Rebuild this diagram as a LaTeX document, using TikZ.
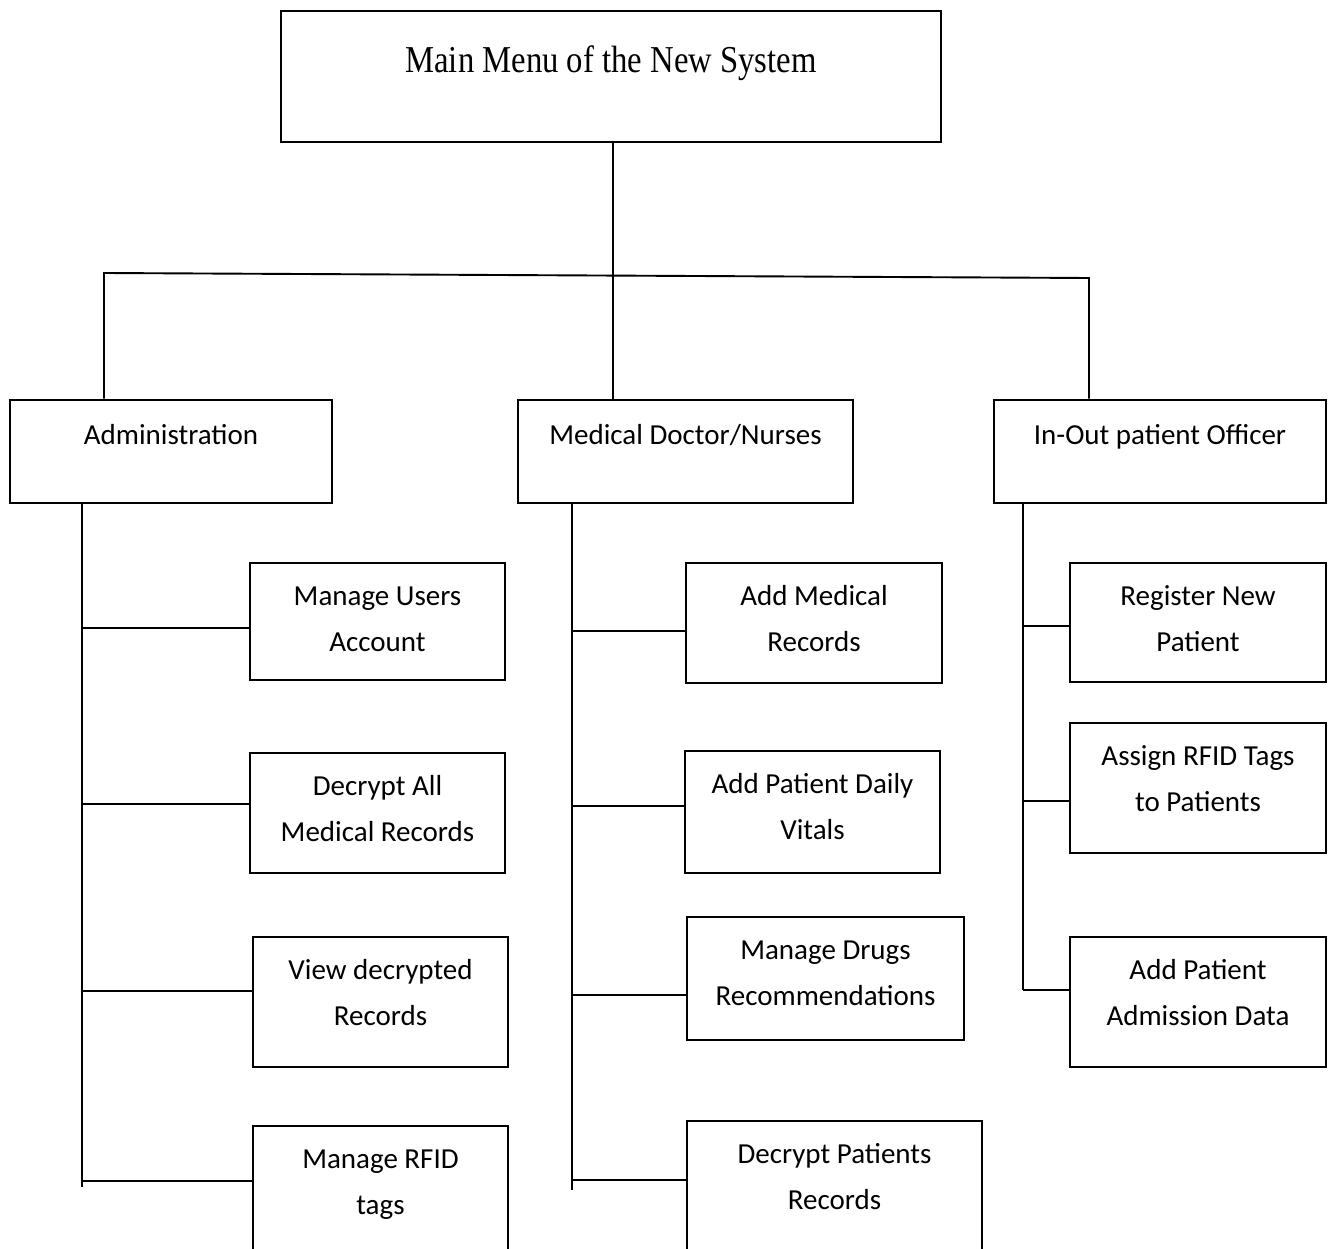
\documentclass[tikz,border=0pt]{standalone}
\usepackage{fontspec}
\setmainfont{Carlito}
\newfontfamily\titlefont[FakeStretch=0.86]{Liberation Serif}
\begin{document}
\begin{tikzpicture}[x=1pt,y=-1pt,
  menubox/.style={draw, line width=2pt, inner sep=0pt, minimum width=660pt,
    text height=62pt, text depth=69pt, font=\titlefont\fontsize{38}{40}\selectfont},
  rolebox/.style={draw, line width=2.8pt, inner sep=0pt, minimum height=103pt,
    text height=44pt, text depth=59pt, font=\fontsize{29}{45}\selectfont},
  % two-line task boxes: text hangs from the top edge (height runs to the
  % last baseline), the depth fills the rest of the box
  taskbox/.style={draw, line width=2.8pt, inner sep=0pt, align=center,
    text height=88pt, text depth=#1, font=\fontsize{29}{46}\selectfont},
  link/.style={line width=1.9pt}]
\useasboundingbox (0,0) rectangle (1331,1249);
\clip (0,0) rectangle (1331,1249);

% top of the hierarchy
\node[menubox] (main) at (611,76.5) {Main Menu of the New System};

% user roles
\node[rolebox, minimum width=322pt] (admin) at (171,451.5) {Administration};
\node[rolebox, minimum width=335pt] (med)   at (685.5,451.5) {Medical Doctor/Nurses};
\node[rolebox, minimum width=332pt] (inout) at (1160,451.5) {In-Out patient Officer};

% administration tasks
\node[taskbox=29pt, minimum width=255pt] (m1) at (377.5,621.5) {Manage Users\\Account};
\node[taskbox=32pt, minimum width=255pt] (m2) at (377.5,813) {Decrypt All\\Medical Records};
\node[taskbox=42pt, minimum width=255pt] (m3) at (380.5,1002) {View decrypted\\Records};
\node[taskbox=42pt, minimum width=255pt] (m4) at (380.5,1191) {Manage RFID\\tags};

% doctor / nurse tasks
\node[taskbox=32pt, minimum width=256pt] (d1) at (814,623) {Add Medical\\Records};
\node[taskbox=34pt, minimum width=255pt] (d2) at (812.5,812) {Add Patient Daily\\Vitals};
\node[taskbox=35pt, minimum width=277pt] (d3) at (825.5,978.5) {Manage Drugs\\Recommendations};
\node[taskbox=43pt, minimum width=295pt] (d4) at (834.5,1186.5) {Decrypt Patients\\Records};

% in-out patient officer tasks
\node[taskbox=31pt, minimum width=256pt] (o1) at (1198,622.5) {Register New\\Patient};
\node[taskbox=42pt, minimum width=256pt] (o2) at (1198,788) {Assign RFID Tags\\to Patients};
\node[taskbox=42pt, minimum width=256pt] (o3) at (1198,1002) {Add Patient\\Admission Data};

% bus from the main menu to the roles
\coordinate (hub)  at (613,275.5);
\coordinate (barL) at (104,273);
\coordinate (barR) at (1089,278);
\draw[link] (main.south -| hub) -- (hub) -- (med.north -| hub);
\draw[link] (admin.north -| barL) -- (barL) -- (barR) -- (inout.north -| barR);

% administration trunk and branches
\coordinate (aT) at (82,1187);
\draw[link] (admin.south -| aT) -- (aT);
\draw[link] (aT |- 0,628)  -- (m1.west |- 0,628);
\draw[link] (aT |- 0,804)  -- (m2.west |- 0,804);
\draw[link] (aT |- 0,991)  -- (m3.west |- 0,991);
\draw[link] (aT |- 0,1181) -- (m4.west |- 0,1181);

% doctor / nurse trunk and branches
\coordinate (dT) at (572,1190);
\draw[link] (med.south -| dT) -- (dT);
\draw[link] (dT |- 0,631)  -- (d1.west |- 0,631);
\draw[link] (dT |- 0,806)  -- (d2.west |- 0,806);
\draw[link] (dT |- 0,995)  -- (d3.west |- 0,995);
\draw[link] (dT |- 0,1180) -- (d4.west |- 0,1180);

% in-out patient officer trunk and branches
\coordinate (oT) at (1023,990);
\draw[link] (inout.south -| oT) -- (oT);
\draw[link] (oT |- 0,626) -- (o1.west |- 0,626);
\draw[link] (oT |- 0,801) -- (o2.west |- 0,801);
\draw[link] (oT |- 0,990) -- (o3.west |- 0,990);
\end{tikzpicture}
\end{document}
